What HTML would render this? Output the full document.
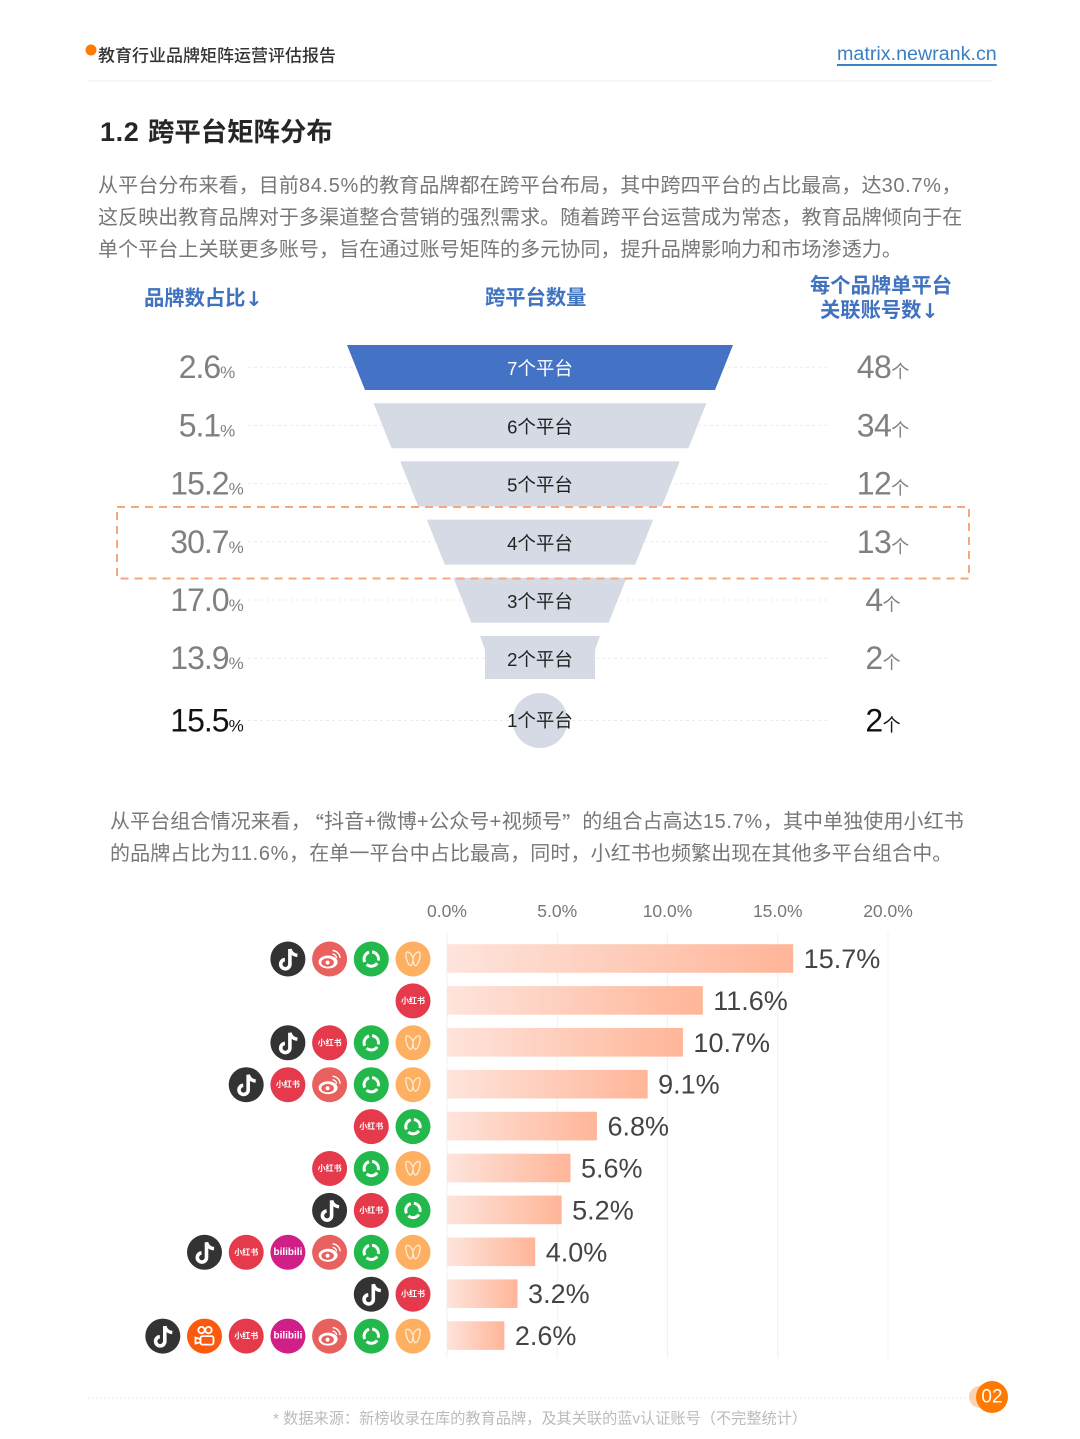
<!DOCTYPE html>
<html lang="zh">
<head>
<meta charset="utf-8">
<title>教育行业品牌矩阵运营评估报告</title>
<style>
html,body{margin:0;padding:0;background:#fff;}
body{width:1080px;height:1439px;overflow:hidden;}
svg{display:block;}
text{font-family:"Liberation Sans","Noto Sans CJK SC",sans-serif;dominant-baseline:central;}
.bl{dominant-baseline:auto;}
.l{letter-spacing:0.65px;}
.q{font-family:"Noto Sans CJK SC",sans-serif;}
.arrow{font-family:"DejaVu Sans",sans-serif;}
</style>
</head>
<body>
<svg id="page" xmlns="http://www.w3.org/2000/svg" width="1080" height="1439" viewBox="0 0 1080 1439">
  <defs>
    <linearGradient id="barFill" x1="0" y1="0" x2="1" y2="0">
      <stop offset="0" stop-color="#fee4dc"/>
      <stop offset="1" stop-color="#ffb598"/>
    </linearGradient>
  </defs>
  <circle cx="91" cy="50" r="5.5" fill="#ff7a00"/>
  <text x="98" y="56" font-size="17" font-weight="500" fill="#333">教育行业品牌矩阵运营评估报告</text>
  <text x="837" y="54" font-size="19.7" fill="#3b7fc4" text-decoration="underline">matrix.newrank.cn</text>
  <line x1="88" y1="81" x2="992" y2="81" stroke="#eeeeee"/>
  <text x="100" y="132" font-size="27" font-weight="700" fill="#262626" letter-spacing="0.6">1.2</text>
  <text x="148" y="132" font-size="26.4" font-weight="700" fill="#262626">跨平台矩阵分布</text>

  <g font-size="20" fill="#777" letter-spacing="0.1">
    <text x="98" y="186">从平台分布来看，目前<tspan class="l">84.5%</tspan>的教育品牌都在跨平台布局，其中跨四平台的占比最高，达<tspan class="l">30.7%</tspan>，</text>
    <text x="98" y="218">这反映出教育品牌对于多渠道整合营销的强烈需求。随着跨平台运营成为常态，教育品牌倾向于在</text>
    <text x="98" y="250">单个平台上关联更多账号，旨在通过账号矩阵的多元协同，提升品牌影响力和市场渗透力。</text>
  </g>

  <g font-size="20.3" font-weight="700" fill="#3f72bf">
    <text x="144" y="299">品牌数占比<tspan class="arrow">↓</tspan></text>
    <text x="485" y="298.5">跨平台数量</text>
    <text x="810" y="286.5">每个品牌单平台</text>
    <text x="820" y="311">关联账号数<tspan class="arrow">↓</tspan></text>
  </g>

  <g id="funnel"></g>

  <rect x="117" y="507" width="852" height="71.5" fill="none" stroke="#f6a77c" stroke-width="2" stroke-dasharray="8 6"/>

  <g font-size="20" fill="#777" letter-spacing="0.1">
    <text x="110" y="822">从平台组合情况来看，<tspan class="q" dx="3">“</tspan>抖音<tspan class="l">+</tspan>微博<tspan class="l">+</tspan>公众号<tspan class="l">+</tspan>视频号<tspan class="q">”</tspan>的组合占高达<tspan class="l">15.7%</tspan>，其中单独使用小红书</text>
    <text x="110" y="854">的品牌占比为<tspan class="l">11.6%</tspan>，在单一平台中占比最高，同时，小红书也频繁出现在其他多平台组合中。</text>
  </g>

  <g id="bars"></g>

  <line x1="88" y1="1398" x2="968" y2="1398" stroke="#e8e8e8" stroke-dasharray="2 2"/>
  <text x="273" y="1419" font-size="15.2" fill="#bbbbbb">* 数据来源：新榜收录在库的教育品牌，及其关联的蓝v认证账号（不完整统计）</text>
  <circle cx="980" cy="1397" r="11" fill="#fbd3b2"/>
  <circle cx="992" cy="1397" r="16" fill="#ff7a00"/>
  <text x="992" y="1397" font-size="19" fill="#fff" text-anchor="middle">02</text>
</svg>

<script>
var platformCounts = [7, 6, 5, 4, 3, 2, 1];
var brandShare = [2.6, 5.1, 15.2, 30.7, 17.0, 13.9, 15.5];
var accountsPerPlatform = [48, 34, 12, 13, 4, 2, 2];

var comboValues = [15.7, 11.6, 10.7, 9.1, 6.8, 5.6, 5.2, 4.0, 3.2, 2.6];
var comboPlatforms = [
  ['douyin', 'weibo', 'channels', 'wechat'],
  ['xhs'],
  ['douyin', 'xhs', 'channels', 'wechat'],
  ['douyin', 'xhs', 'weibo', 'channels', 'wechat'],
  ['xhs', 'channels'],
  ['xhs', 'channels', 'wechat'],
  ['douyin', 'xhs', 'channels'],
  ['douyin', 'xhs', 'bilibili', 'weibo', 'channels', 'wechat'],
  ['douyin', 'xhs'],
  ['douyin', 'kuaishou', 'xhs', 'bilibili', 'weibo', 'channels', 'wechat']
];
var axisTicks = [0, 5, 10, 15, 20];

var NS = 'http://www.w3.org/2000/svg';
function make(tag, attrs, parent) {
  var n = document.createElementNS(NS, tag);
  for (var k in attrs) n.setAttribute(k, attrs[k]);
  parent.appendChild(n);
  return n;
}

/* ---------- funnel ---------- */
var funnel = document.getElementById('funnel');
function funnelRowY(i) { return 345 + 58.2 * i; }
function funnelWidth(n) { return 120 + (n - 2) * 53.2; }
var funnelCx = 540, funnelH = 45, funnelInset = 18;

platformCounts.forEach(function (n, i) {
  var top = funnelRowY(i), cy = top + 22.2, el;
  if (i === platformCounts.length - 1) cy = 720.5;

  el = make('line', {x1: 248, x2: 830, y1: cy, y2: cy, stroke: '#ececec', 'stroke-dasharray': '3 3'}, funnel);
  
  

  var w = funnelWidth(n) / 2, shape;
  if (n === 1) {
    shape = make('circle', {cx: funnelCx, cy: cy, r: 27.5, fill: '#d5dae4'}, funnel);
  } else if (n === 2) {
    var pts2 = [[-w, 0], [w, 0], [w - 5, 14], [w - 5, 43], [-w + 5, 43], [-w + 5, 14]];
    shape = make('polygon', {points: pts2.map(function (p) { return (funnelCx + p[0]) + ',' + (top + p[1]); }).join(' '), fill: '#d5dae4'}, funnel);
  } else {
    var pts = [[-w, 0], [w, 0], [w - funnelInset, funnelH], [-w + funnelInset, funnelH]];
    shape = make('polygon', {points: pts.map(function (p) { return (funnelCx + p[0]) + ',' + (top + p[1]); }).join(' '), fill: n === 7 ? '#4472c4' : '#d5dae4'}, funnel);
  }
  
  

  var label = make('text', {x: funnelCx, y: n === 1 ? cy : cy + 1.5, 'font-size': 18.5, 'text-anchor': 'middle', fill: n === 7 ? '#fff' : '#222'}, funnel);
  label.textContent = n + '个平台';
  
  

  var strong = n === 1;
  var share = make('text', {'class': 'bl', x: 207, y: cy + 11, 'font-size': 32, 'letter-spacing': -1, 'text-anchor': 'middle', fill: strong ? '#111' : '#808080'}, funnel);
  
  
  share.appendChild(document.createTextNode(brandShare[i].toFixed(1)));
  var pct = make('tspan', {'font-size': 17, 'letter-spacing': 0}, share);
  pct.textContent = '%';

  var acc = make('text', {'class': 'bl', x: 883, y: cy + 11, 'font-size': 32, 'letter-spacing': -0.5, 'text-anchor': 'middle', fill: strong ? '#111' : '#808080'}, funnel);
  
  
  acc.appendChild(document.createTextNode(String(accountsPerPlatform[i])));
  var unit = make('tspan', {'font-size': 18, 'letter-spacing': 0}, acc);
  unit.textContent = '个';
});

/* ---------- bar chart ---------- */
var bars = document.getElementById('bars');
function xScale(v) { return 447 + v * 22.05; }
function rowY(i) { return 958.5 + 41.9 * i; }

axisTicks.forEach(function (t) {
  var g = make('line', {x1: xScale(t), x2: xScale(t), y1: 932, y2: 1358, stroke: '#f1f1f1'}, bars);
  
  
  var tl = make('text', {x: xScale(t), y: 911, 'font-size': 17.5, 'text-anchor': 'middle', fill: '#777'}, bars);
  tl.textContent = t.toFixed(1) + '%';
  
  
});

comboValues.forEach(function (v, i) {
  var y = rowY(i);
  var b = make('rect', {x: xScale(0), y: y - 14.3, width: xScale(v) - xScale(0), height: 28.6, fill: 'url(#barFill)'}, bars);
  
  
  var t = make('text', {x: xScale(v) + 10.5, y: y + 0.5, 'font-size': 27, fill: '#444'}, bars);
  t.textContent = v.toFixed(1) + '%';
  
  

  var list = comboPlatforms[i];
  list.forEach(function (p, j) {
    drawIcon(p, 413 - 41.7 * (list.length - 1 - j), y + 0.5);
  });
});

function drawIcon(kind, cx, cy) {
  var g = make('g', {transform: 'translate(' + cx + ',' + cy + ')'}, bars);
  
  
  var colors = {douyin: '#333333', weibo: '#e8615f', channels: '#22b84c', wechat: '#fdb062', xhs: '#e43a4b', bilibili: '#d11f88', kuaishou: '#fb5a0e'};
  make('circle', {r: 17.5, fill: colors[kind]}, g);
  var t;
  if (kind === 'douyin') {
    make('path', {d: 'M2,-10 V5 A4.6,4.6 0 1 1 -3,0.6', fill: 'none', stroke: '#fff', 'stroke-width': 3.6}, g);
    make('path', {d: 'M2,-10 C3,-6 6,-4 9.5,-3.6', fill: 'none', stroke: '#fff', 'stroke-width': 3.4}, g);
  } else if (kind === 'weibo') {
    make('ellipse', {cx: -1.5, cy: 3, rx: 9.5, ry: 6.5, fill: '#fff'}, g);
    make('ellipse', {cx: -2, cy: 3.5, rx: 6.3, ry: 4.2, fill: '#e8615f'}, g);
    make('circle', {cx: -2, cy: 3.5, r: 2, fill: '#fff'}, g);
    make('path', {d: 'M3,-8.5 A8,8 0 0 1 10.5,-1 M3,-5 A4.5,4.5 0 0 1 7,-1', fill: 'none', stroke: '#fff', 'stroke-width': 1.4}, g);
  } else if (kind === 'channels') {
    make('circle', {r: 7.2, fill: 'none', stroke: '#fff', 'stroke-width': 3, 'stroke-dasharray': '12 3.08', transform: 'rotate(35)'}, g);
  } else if (kind === 'wechat') {
    make('path', {d: 'M0,-1 C-1.6,-6 -5.5,-8 -6.8,-6.5 C-8,-2.5 -5,6.5 -2.4,6.5 C-0.8,6.5 0,2.5 0,-1 C0,2.5 0.8,6.5 2.4,6.5 C5,6.5 8,-2.5 6.8,-6.5 C5.5,-8 1.6,-6 0,-1Z', fill: 'none', stroke: '#fff', 'stroke-width': 1.3, opacity: 0.75}, g);
  } else if (kind === 'xhs') {
    t = make('text', {'font-size': 8, 'font-weight': 700, 'text-anchor': 'middle', fill: '#fff'}, g);
    t.textContent = '小红书';
  } else if (kind === 'bilibili') {
    t = make('text', {'font-size': 10, 'font-weight': 700, 'text-anchor': 'middle', fill: '#fff'}, g);
    t.textContent = 'bilibili';
  } else if (kind === 'kuaishou') {
    make('circle', {cx: -3, cy: -6, r: 3.2, fill: 'none', stroke: '#fff', 'stroke-width': 1.8}, g);
    make('circle', {cx: 4, cy: -6, r: 3.2, fill: 'none', stroke: '#fff', 'stroke-width': 1.8}, g);
    make('rect', {x: -4, y: 0, width: 13, height: 8.5, rx: 2, fill: 'none', stroke: '#fff', 'stroke-width': 1.8}, g);
    make('path', {d: 'M-4,3 L-9,1.5 V7.5 L-4,6', fill: 'none', stroke: '#fff', 'stroke-width': 1.8}, g);
  }
}
</script>
</body>
</html>
